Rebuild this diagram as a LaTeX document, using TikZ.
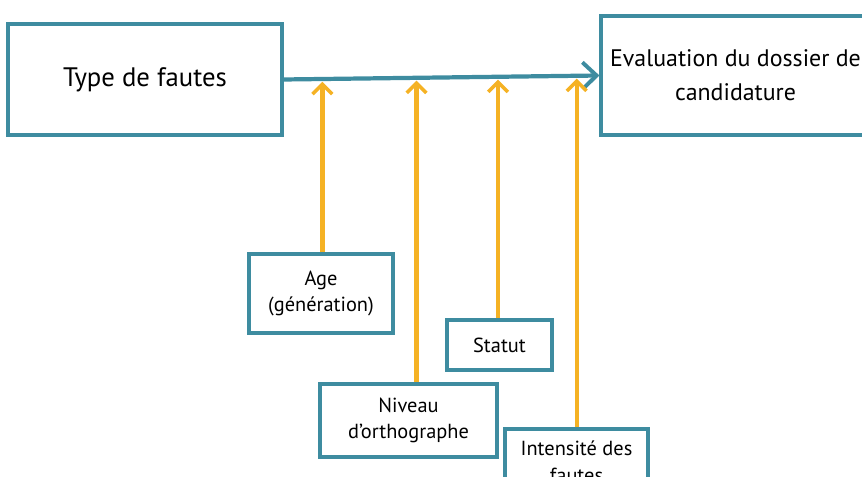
\documentclass[tikz,border=0pt]{standalone}
\usepackage{fontspec}
\setmainfont{PT Sans}
\usetikzlibrary{arrows.meta}
\definecolor{tealbox}{RGB}{62,140,160}
\definecolor{orangearr}{RGB}{245,178,36}
\tikzset{
  box/.style={draw=tealbox, line width=2.2pt, fill=white, align=center, inner sep=0pt},
  bigbox/.style={box, font=\fontsize{17}{24}\selectfont},
  smallbox/.style={box, font=\fontsize{14.5}{19}\selectfont},
  mainarrow/.style={draw=tealbox, line width=3pt, -{Straight Barb[length=10pt,width=19pt,line width=2.8pt]}},
  sidearrow/.style={draw=orangearr, line width=3pt, -{Straight Barb[length=7pt,width=14pt,line width=2.5pt]}, shorten >=2pt}
}
\begin{document}
\begin{tikzpicture}[x=0.025cm, y=-0.025cm]
			%%%%% START %%%%%
			\useasboundingbox (0, 0) rectangle (862, 477);
			\clip (0, 0) rectangle (862, 477);
			
			\node[bigbox, font=\fontsize{19}{24}\selectfont, minimum width=274*0.025cm, minimum height=111*0.025cm] (type) at (145, 79.5) {Type de fautes};
			\node[bigbox, minimum width=269*0.025cm, minimum height=119*0.025cm] (eval) at (735.5, 75.5) {Evaluation du dossier de\\candidature};
			
			\draw[mainarrow] (type.east) -- coordinate[pos=0.123] (pa) coordinate[pos=0.421] (pn) coordinate[pos=0.679] (ps) coordinate[pos=0.928] (pi) (eval.west);
			
			\node[smallbox, minimum width=144*0.025cm, minimum height=79*0.025cm] (age) at (321, 293.5) {Age\\(génération)};
			\node[smallbox, minimum width=105*0.025cm, minimum height=50*0.025cm] (statut) at (499.5, 345) {Statut};
			\node[smallbox, minimum width=177*0.025cm, minimum height=73*0.025cm] (niveau) at (408.5, 420.5) {Niveau\\d’orthographe};
			\node[smallbox, minimum width=143*0.025cm, minimum height=66*0.025cm] (intens) at (576.5, 462) {Intensité des\\fautes};
			
			\draw[sidearrow] (pa |- age.north) -- (pa);
			\draw[sidearrow] (pn |- niveau.north) -- (pn);
			\draw[sidearrow] (ps |- statut.north) -- (ps);
			\draw[sidearrow] (pi |- intens.north) -- (pi);
			
			%%%%% END %%%%%
\end{tikzpicture}
\end{document}
